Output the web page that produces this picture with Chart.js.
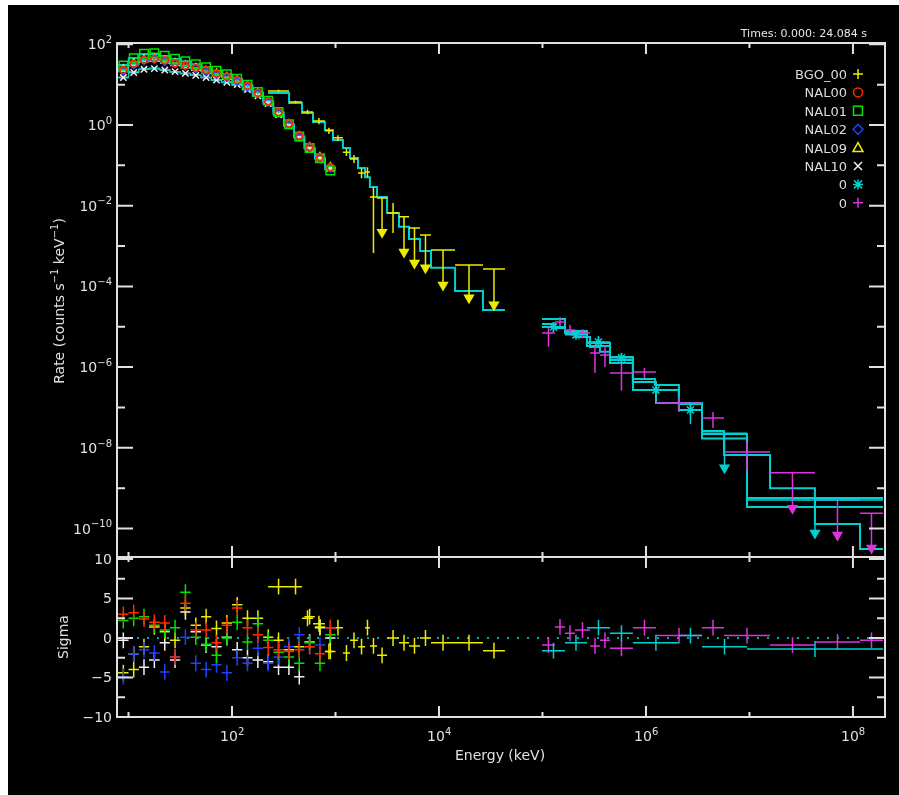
<!DOCTYPE html>
<html>
<head>
<meta charset="utf-8">
<script src="https://cdn.jsdelivr.net/npm/chart.js@4.4.0/dist/chart.umd.min.js"></script>
<style>
  html, body { margin: 0; padding: 0; background: #fff; }
  #wrap { position: absolute; left: 8px; top: 5px; width: 891px; height: 790px; background: #000; }
</style>
</head>
<body>
<div id="wrap"><canvas id="spec" width="891" height="790"></canvas></div>
<script>
// ---- NaI detectors, shared energy bins (keV) ----
const nalEdges = [7.94, 10.0, 12.6, 15.8, 20.0, 25.1, 31.6, 39.8, 50.1, 63.1, 79.4, 100, 126, 158, 200, 251, 316, 398, 501, 631, 794, 1000];
const nal00Rate = [23, 33, 41, 44, 40, 34, 30, 26, 23, 19, 16, 13, 9.5, 6.3, 3.9, 2.1, 1.1, 0.55, 0.29, 0.16, 0.09];
const nal01Rate = [30, 45, 58, 60, 52, 44, 38, 32, 27, 22, 18, 14, 10, 6.6, 4.0, 2.1, 1.05, 0.52, 0.27, 0.15, 0.075];
const nal02Rate = [22, 31, 40, 42, 37, 33, 29, 25, 21, 18, 15, 12, 8.8, 5.9, 3.7, 1.95, 1.0, 0.5, 0.27, 0.15, 0.085];
const nal09Rate = [24, 34, 42, 43, 39, 34, 30, 26, 22, 19, 15.5, 12.8, 9.2, 6.1, 3.8, 2.0, 1.05, 0.53, 0.28, 0.16, 0.09];
const nal10Rate = [15, 20, 24, 25, 23, 21, 19, 17, 15, 13, 11.5, 10, 7.6, 5.3, 3.4, 1.8, 0.95, 0.48, 0.26, 0.15, 0.085];
const nalModelHi = [31, 46, 56, 57, 51, 44, 38, 32, 27, 22.5, 18, 14, 10, 6.5, 4.0, 2.1, 1.05, 0.52, 0.27, 0.145, 0.078];
const nalModelMid = [22, 32, 40, 42, 38, 33, 29, 25, 21.5, 18.5, 15.2, 12.4, 9.0, 6.0, 3.8, 2.0, 1.02, 0.51, 0.27, 0.15, 0.085];
const nalModelLo = [15, 20.5, 24, 25, 23.5, 21, 19, 17, 15, 13, 11.3, 9.8, 7.5, 5.2, 3.35, 1.8, 0.95, 0.48, 0.26, 0.15, 0.085];
const nal00Sigma = [3.0, 3.2, 2.4, 2.0, 1.9, -2.4, 4.4, 1.0, 1.0, -0.6, 1.6, 3.8, 1.3, 0.4, -1.2, -1.5, -1.7, -1.5, -1.1, -2.0, 1.3];
const nal01Sigma = [2.2, 2.5, 2.7, 1.6, 1.0, 1.3, 5.8, 0.1, -0.8, -2.2, 0.0, 2.0, -0.5, 1.8, -0.3, -1.8, -2.4, -3.2, -0.6, -3.2, 0.4];
const nal02Sigma = [-4.9, -2.0, -1.5, -1.9, -4.3, -2.4, 0.1, -3.2, -4.0, -3.4, -4.4, -2.5, -3.2, -1.3, -3.2, -2.4, -1.1, 0.4, -1.1, -0.9, 1.3];
const nal09Sigma = [-4.4, -4.0, -1.1, 1.4, 0.8, -0.3, 3.8, 1.6, 2.7, 1.2, 1.9, 4.2, 2.5, 2.5, 0.1, -0.3, -1.5, -1.1, 2.7, 1.4, -1.7];
const nal10Sigma = [-0.3, -2.0, -3.7, -2.8, -0.6, -2.8, 3.3, 0.8, -0.9, -1.1, 0.1, -1.5, -2.5, -2.8, -3.0, -3.7, -3.7, -4.9, -0.5, 1.3, 0.0];

// ---- BGO_00 ----
const bgoEdges = [223, 356, 475, 606, 790, 945, 1180, 1380, 1650, 1930, 2150, 2520, 3150, 4110, 5130, 6550, 8370, 14300, 26600, 43400];
const bgoRate = [7.0, 3.7, 2.1, 1.26, 0.72, 0.48, 0.21, 0.144, 0.065, 0.068, 0.0164, 0.0155, 0.0066, 0.0053, 0.0028, 0.00188, 8.0e-4, 3.4e-4, 2.7e-4];
const bgoLo = [6.5, 3.4, 1.85, 1.05, 0.6, 0.4, 0.17, 0.115, 0.048, 0.05, 6.7e-4, 2.2e-3, 2.1e-3, 7.1e-4, 3.8e-4, 2.9e-4, 1.08e-4, 5.2e-5, 3.5e-5];
const bgoHi = [7.5, 4.0, 2.4, 1.5, 0.85, 0.56, 0.26, 0.18, 0.085, 0.09, 0.029, 0.0155, 0.0117, 0.0053, 0.0028, 0.00188, 8.0e-4, 3.4e-4, 2.7e-4];
const bgoUpper = [0, 0, 0, 0, 0, 0, 0, 0, 0, 0, 0, 1, 0, 1, 1, 1, 1, 1, 1];
const bgoModel = [6.2, 3.5, 1.98, 1.19, 0.75, 0.425, 0.27, 0.152, 0.086, 0.051, 0.029, 0.0164, 0.0066, 0.003, 0.0015, 7.5e-4, 2.9e-4, 7.7e-5, 2.6e-5];
const bgoSigma = [6.5, 6.5, 2.5, 1.8, -1.7, 1.3, -1.9, -0.3, -1.1, 1.3, -1.0, -2.2, 0.0, -0.6, -1.0, 0.0, -0.6, -0.6, -1.6];

// ---- high energy set 1 (cyan asterisk) ----
const latEdges = [9.89e4, 1.65e5, 2.69e5, 4.49e5, 7.48e5, 2.08e6, 3.48e6, 9.46e6, 1.95e8];
const latRate = [9.9e-6, 6.3e-6, 4.2e-6, 1.7e-6, 2.7e-7, 8.7e-8, 2.3e-8, 5.1e-10];
const latLo = [7.4e-6, 5.2e-6, 3.2e-6, 1.17e-6, 1.8e-7, 3.9e-8, 3.2e-9, 7.7e-11];
const latHi = [1.31e-5, 7.4e-6, 5.9e-6, 2.24e-6, 4.0e-7, 1.36e-7, 2.3e-8, 5.1e-10];
const latUpper = [0, 0, 0, 0, 0, 0, 1, 1];
const latSigma = [-1.6, -0.6, 1.3, 0.6, -0.6, 0.3, -1.1, -1.4];
const latModelEdges = [9.89e4, 1.65e5, 2.69e5, 4.49e5, 7.48e5, 1.22e6, 2.08e6, 3.48e6, 9.46e6, 1.95e8];
const latModelA = [1.56e-5, 7.85e-6, 3.95e-6, 1.78e-6, 5.07e-7, 3.6e-7, 1.22e-7, 2.2e-8, 5.7e-10];
const latModelB = [9.86e-6, 7.0e-6, 3.33e-6, 1.26e-6, 2.71e-7, 8.65e-8, 1.7e-8, 3.41e-10];

// ---- high energy set 2 (magenta cross) ----
const lleEdges = [9.89e4, 1.32e5, 1.65e5, 2.06e5, 2.88e5, 3.59e5, 4.49e5, 7.48e5, 1.25e6, 3.48e6, 5.67e6, 1.58e7, 4.29e7, 1.17e8, 1.95e8];
const lleRate = [7.0e-6, 1.31e-5, 8.3e-6, 7.0e-6, 2.24e-6, 2.0e-6, 7.2e-7, 7.6e-7, 1.29e-7, 5.5e-8, 7.9e-9, 2.4e-9, 5.1e-10, 2.4e-10];
const lleLo = [3.2e-6, 9.9e-6, 6.25e-6, 5.2e-6, 7.2e-7, 1.0e-6, 2.6e-7, 5.4e-7, 7.7e-8, 3.1e-8, 2.7e-9, 3.2e-10, 6.9e-11, 3.3e-11];
const lleHi = [1.04e-5, 1.74e-5, 1.1e-5, 8.8e-6, 3.3e-6, 3.3e-6, 1.26e-6, 9.5e-7, 1.82e-7, 7.7e-8, 1.39e-8, 2.4e-9, 5.1e-10, 2.4e-10];
const lleUpper = [0, 0, 0, 0, 0, 0, 0, 0, 0, 0, 0, 1, 1, 1];
const lleModel = [1.17e-5, 9.3e-6, 7.4e-6, 5.6e-6, 3.15e-6, 2.4e-6, 1.5e-6, 4.3e-7, 1.29e-7, 2.6e-8, 6.6e-9, 1.0e-9, 1.29e-10, 3.1e-11];
const lleSigma = [-0.9, 1.4, 0.6, 1.0, -1.0, -0.3, -1.3, 1.3, 0.3, 1.3, 0.3, -0.9, -0.5, -0.3];

// ---- axes / labels ----
const xDecades = [1, 2, 3, 4, 5, 6, 7, 8];
const xLabelExp = [2, 4, 6, 8];
const yDecades = [2, 1, 0, -1, -2, -3, -4, -5, -6, -7, -8, -9, -10];
const yLabelExp = [2, 0, -2, -4, -6, -8, -10];
const resTicks = [10, 7.5, 5, 2.5, 0, -2.5, -5, -7.5, -10];
const resLabels = [10, 5, 0, -5, -10];
const legendNames = ['BGO_00', 'NAL00', 'NAL01', 'NAL02', 'NAL09', 'NAL10', '0', '0'];
const timeText = 'Times: 0.000: 24.084 s';

const YEL = '#ecec00', RED = '#ff2a00', GRN = '#00e400', BLU = '#2040ff', WHT = '#f0f0f0',
      CYN = '#00d0d0', MAG = '#dd33dd', AXIS = '#e0e0e0';
const legendColors = [YEL, RED, GRN, BLU, YEL, WHT, CYN, MAG];
const legendSyms = ['plus', 'circle', 'square', 'diamond', 'triangle', 'x', 'star', 'plus'];
const FONT = '"DejaVu Sans", sans-serif';

// helpers that turn bins into line segments (null breaks the line)
function steps(edges, vals) {
  const pts = [];
  vals.forEach((v, i) => { pts.push({x: edges[i], y: v}, {x: edges[i + 1], y: v}); });
  return pts;
}
function bars(edges, vals, lo, hi, upper) {
  const pts = [];
  vals.forEach((v, i) => {
    const a = edges[i], b = edges[i + 1], m = Math.sqrt(a * b);
    pts.push({x: a, y: v}, {x: b, y: v}, {x: b, y: null});
    if (lo) {
      const top = upper && upper[i] ? v : hi[i];
      pts.push({x: m, y: top}, {x: m, y: lo[i]}, {x: m, y: null});
    }
  });
  return pts;
}
function resid(edges, sig) {
  const pts = [];
  sig.forEach((s, i) => {
    const a = edges[i], b = edges[i + 1], m = Math.sqrt(a * b);
    pts.push({x: a, y: s}, {x: b, y: s}, {x: b, y: null}, {x: m, y: s + 1}, {x: m, y: s - 1}, {x: m, y: null});
  });
  return pts;
}
function centers(edges, vals, mask) {
  const pts = [];
  vals.forEach((v, i) => { if (!mask || !mask[i]) pts.push({x: Math.sqrt(edges[i] * edges[i + 1]), y: v}); });
  return pts;
}
function arrows(edges, lo, upper) {
  const pts = [];
  lo.forEach((v, i) => { if (upper[i]) pts.push({x: Math.sqrt(edges[i] * edges[i + 1]), y: v}); });
  return pts;
}

function lineSet(data, color, axis, order, width, dash) {
  return {data: data, showLine: true, borderColor: color, borderWidth: width || 2, borderDash: dash || [],
          pointRadius: 0, pointHoverRadius: 0, spanGaps: false, tension: 0, yAxisID: axis, order: order};
}
function markSet(data, style, color, radius, filled, rot) {
  return {data: data, showLine: false, pointStyle: style, pointRadius: radius, pointHoverRadius: radius,
          pointBorderColor: color, pointBackgroundColor: filled ? color : 'rgba(0,0,0,0)',
          pointBorderWidth: 1.5, pointRotation: rot || 0, yAxisID: 'y', order: 0};
}

const nalSets = [
  [nal00Rate, nal00Sigma, RED, 'circle', 3.5],
  [nal01Rate, nal01Sigma, GRN, 'rect', 6],
  [nal02Rate, nal02Sigma, BLU, 'rectRot', 4],
  [nal09Rate, nal09Sigma, YEL, 'triangle', 4.5],
  [nal10Rate, nal10Sigma, WHT, 'crossRot', 4.5]
];

const datasets = [];
nalSets.forEach(([rate, sig, col, sym, r]) => {
  datasets.push(lineSet(bars(nalEdges, rate), col, 'y', 3, 1.5));
  datasets.push(markSet(centers(nalEdges, rate), sym, col, r, false));
  datasets.push(lineSet(resid(nalEdges, sig), col, 'yRes', 1, 1.5));
});
[nalModelHi, nalModelMid, nalModelLo].forEach(m => datasets.push(lineSet(steps(nalEdges, m), CYN, 'y', 2, 1.5)));

datasets.push(lineSet(steps(bgoEdges, bgoModel), CYN, 'y', 4, 2));
datasets.push(lineSet(bars(bgoEdges, bgoRate, bgoLo, bgoHi, bgoUpper), YEL, 'y', 1, 1.5));
datasets.push(markSet(arrows(bgoEdges, bgoLo, bgoUpper), 'triangle', YEL, 5, true, 180));
datasets.push(lineSet(resid(bgoEdges, bgoSigma), YEL, 'yRes', 1, 1.5));

datasets.push(lineSet(steps(latModelEdges, latModelA), CYN, 'y', 4, 2));
datasets.push(lineSet(steps(latEdges, latModelB), CYN, 'y', 4, 2));
datasets.push(lineSet(steps(lleEdges, lleModel), CYN, 'y', 4, 2));
datasets.push(lineSet(bars(latEdges, latRate, latLo, latHi, latUpper), CYN, 'y', 1, 1.5));
datasets.push(markSet(centers(latEdges, latRate, latUpper), 'star', CYN, 5, true));
datasets.push(markSet(arrows(latEdges, latLo, latUpper), 'triangle', CYN, 5, true, 180));
datasets.push(lineSet(bars(lleEdges, lleRate, lleLo, lleHi, lleUpper), MAG, 'y', 1, 1.5));
datasets.push(markSet(arrows(lleEdges, lleLo, lleUpper), 'triangle', MAG, 5, true, 180));
datasets.push(lineSet(resid(latEdges, latSigma), CYN, 'yRes', 1, 1.5));
datasets.push(lineSet(resid(lleEdges, lleSigma), MAG, 'yRes', 1, 1.5));

datasets.push(lineSet([{x: 7.74, y: 0}, {x: 2.04e8, y: 0}], '#00a8a8', 'yRes', 6, 2, [2, 8]));

function supText(ctx, base, sup, x, y, align, size) {
  ctx.font = size + 'px ' + FONT;
  const wb = ctx.measureText(base).width;
  const ss = Math.round(size * 0.72);
  ctx.font = ss + 'px ' + FONT;
  const ws = ctx.measureText(sup).width;
  let x0 = x;
  if (align === 'right') x0 = x - wb - ws;
  if (align === 'center') x0 = x - (wb + ws) / 2;
  ctx.textAlign = 'left';
  ctx.font = size + 'px ' + FONT;
  ctx.fillText(base, x0, y);
  ctx.font = ss + 'px ' + FONT;
  ctx.fillText(sup, x0 + wb, y - size * 0.45);
  return wb + ws;
}

function drawSym(c, kind, x, y, col) {
  c.save();
  c.strokeStyle = col; c.fillStyle = col; c.lineWidth = 1.5;
  c.beginPath();
  const s = 5;
  if (kind === 'plus') { c.moveTo(x - s, y); c.lineTo(x + s, y); c.moveTo(x, y - s); c.lineTo(x, y + s); }
  if (kind === 'x') { c.moveTo(x - 4, y - 4); c.lineTo(x + 4, y + 4); c.moveTo(x + 4, y - 4); c.lineTo(x - 4, y + 4); }
  if (kind === 'star') {
    c.moveTo(x - s, y); c.lineTo(x + s, y); c.moveTo(x, y - s); c.lineTo(x, y + s);
    c.moveTo(x - 4, y - 4); c.lineTo(x + 4, y + 4); c.moveTo(x + 4, y - 4); c.lineTo(x - 4, y + 4);
  }
  if (kind === 'circle') c.arc(x, y, 4.5, 0, Math.PI * 2);
  if (kind === 'square') c.rect(x - 4.5, y - 4.5, 9, 9);
  if (kind === 'diamond') { c.moveTo(x, y - 5); c.lineTo(x + 5, y); c.lineTo(x, y + 5); c.lineTo(x - 5, y); c.closePath(); }
  if (kind === 'triangle') { c.moveTo(x, y - 5); c.lineTo(x + 5, y + 4); c.lineTo(x - 5, y + 4); c.closePath(); }
  c.stroke();
  c.restore();
}

const framePlugin = {
  id: 'frame',
  beforeDraw(chart) {
    const c = chart.ctx;
    c.save(); c.fillStyle = '#000'; c.fillRect(0, 0, chart.width, chart.height); c.restore();
  },
  afterDraw(chart) {
    const c = chart.ctx, x = chart.scales.x, y = chart.scales.y, r = chart.scales.yRes;
    const L = x.left, R = x.right, T = y.top, M = y.bottom, B = r.bottom;
    c.save();
    c.strokeStyle = AXIS; c.lineWidth = 2;
    c.strokeRect(L, T, R - L, B - T);
    c.beginPath();
    c.moveTo(L, M); c.lineTo(R, M);
    xDecades.forEach(k => {
      const px = x.getPixelForValue(Math.pow(10, k));
      const len = k % 2 === 0 ? 11 : 5;
      [[T, 1], [M, -1], [M, 1], [B, -1]].forEach(([yy, d]) => { c.moveTo(px, yy); c.lineTo(px, yy + d * len); });
    });
    yDecades.forEach(k => {
      const py = y.getPixelForValue(Math.pow(10, k));
      const len = k % 2 === 0 ? 16 : 8;
      c.moveTo(L, py); c.lineTo(L + len, py);
      c.moveTo(R, py); c.lineTo(R - len, py);
    });
    resTicks.forEach(v => {
      const py = r.getPixelForValue(v);
      const len = v % 5 === 0 ? 16 : 8;
      c.moveTo(L, py); c.lineTo(L + len, py);
      c.moveTo(R, py); c.lineTo(R - len, py);
    });
    c.stroke();

    c.fillStyle = AXIS;
    c.textBaseline = 'alphabetic';
    yLabelExp.forEach(k => {
      const py = y.getPixelForValue(Math.pow(10, k));
      supText(c, '10', String(k).replace('-', '\u2212'), L - 5, py + 5, 'right', 14);
    });
    c.font = '14px ' + FONT; c.textAlign = 'right';
    resLabels.forEach(v => {
      c.fillText(String(v).replace('-', '\u2212'), L - 5, r.getPixelForValue(v) + 5);
    });
    xLabelExp.forEach(k => {
      const px = x.getPixelForValue(Math.pow(10, k));
      c.font = '14px ' + FONT;
      const wb = c.measureText('10').width;
      supText(c, '10', String(k), px - 3 - wb / 2, B + 24, 'left', 14);
    });
    c.font = '14px ' + FONT; c.textAlign = 'center';
    c.fillText('Energy (keV)', (L + R) / 2 - 1, B + 43);

    // rotated axis titles
    c.save();
    c.translate(L - 54, (r.top + r.bottom) / 2);
    c.rotate(-Math.PI / 2);
    c.font = '14px ' + FONT; c.textAlign = 'center';
    c.fillText('Sigma', 0, 5);
    c.restore();

    c.save();
    c.translate(L - 58, 296);
    c.rotate(-Math.PI / 2);
    const parts = [['Rate (counts s', 0], ['\u22121', 1], [' keV', 0], ['\u22121', 1], [')', 0]];
    let total = 0;
    parts.forEach(([t, s]) => { c.font = (s ? 10 : 14) + 'px ' + FONT; total += c.measureText(t).width; });
    let cx = -total / 2;
    c.textAlign = 'left';
    parts.forEach(([t, s]) => {
      c.font = (s ? 10 : 14) + 'px ' + FONT;
      c.fillText(t, cx, s ? -1 : 5);
      cx += c.measureText(t).width;
    });
    c.restore();

    // legend
    c.font = '13px ' + FONT; c.textAlign = 'right';
    legendNames.forEach((name, i) => {
      const ly = 69 + i * 18.4;
      c.fillStyle = '#dcdcdc';
      c.fillText(name, R - 38, ly + 5);
      drawSym(c, legendSyms[i], R - 27, ly, legendColors[i]);
    });

    c.font = '11px ' + FONT; c.textAlign = 'right'; c.fillStyle = '#e8e8e8';
    c.fillText(timeText, R - 18, 32);
    c.restore();
  }
};

new Chart(document.getElementById('spec'), {
  type: 'scatter',
  data: {datasets: datasets},
  options: {
    responsive: false,
    animation: false,
    layout: {padding: {left: 109, top: 38, right: 14, bottom: 78}},
    plugins: {legend: {display: false}, tooltip: {enabled: false}},
    scales: {
      x: {type: 'logarithmic', min: 7.74, max: 2.04e8, display: false},
      yRes: {type: 'linear', min: -10, max: 10.25, display: false, position: 'left', stack: 'panel', stackWeight: 160, weight: 1},
      y: {type: 'logarithmic', min: 1.97e-11, max: 107.7, display: false, position: 'left', stack: 'panel', stackWeight: 514, weight: 2}
    }
  },
  plugins: [framePlugin]
});
</script>
</body>
</html>
